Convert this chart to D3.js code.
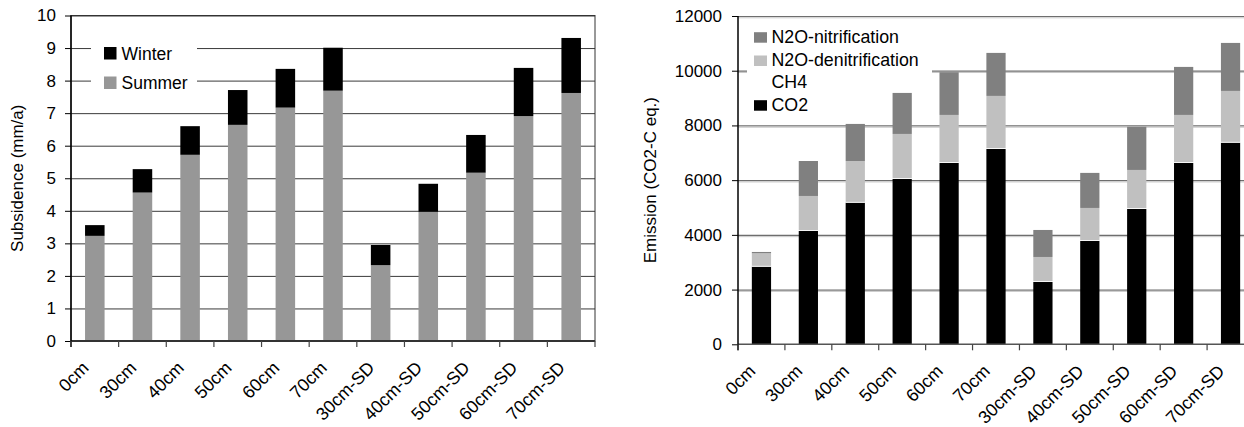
<!DOCTYPE html>
<html><head><meta charset="utf-8">
<script src="https://cdn.jsdelivr.net/npm/d3@7"></script>
<style>
html,body{margin:0;padding:0;background:#fff;}
svg text{font-family:"Liberation Sans",Arial,Helvetica,sans-serif;fill:#000;}
</style></head><body>
<svg id="chart" width="1244" height="427"></svg>
<script>
const categories = ["0cm","30cm","40cm","50cm","60cm","70cm","30cm-SD","40cm-SD","50cm-SD","60cm-SD","70cm-SD"];
// Left chart: subsidence (mm/a)
const summer = [3.23,4.56,5.72,6.64,7.17,7.69,2.33,3.97,5.17,6.91,7.62];
const winter = [0.33,0.72,0.88,1.07,1.19,1.32,0.62,0.86,1.16,1.48,1.69];
const leftTicks = [0,1,2,3,4,5,6,7,8,9,10];
// Right chart: emission (CO2-C eq.)
const co2 = [2838,4142,5177,6044,6629,7141,2278,3777,4947,6629,7371];
const ch4 = [30,30,30,30,30,30,30,30,30,30,30];
const n2oDenit = [459,1250,1493,1615,1725,1908,884,1177,1396,1725,1860];
const n2oNitr = [48,1278,1355,1499,1561,1572,987,1281,1579,1755,1755];
const rightTicks = [0,2000,4000,6000,8000,10000,12000];

const svg = d3.select("#chart");

function catAxis(g, x, yBase, n) {
  const step = x.step();
  const x0 = x.range()[0];
  for (let i = 0; i <= n; i++) {
    g.append("line").attr("x1", x0 + i*step).attr("x2", x0 + i*step)
      .attr("y1", yBase).attr("y2", yBase + 6).attr("stroke", "#444").attr("stroke-width", 1.2);
  }
  categories.forEach(c => {
    const cx = x(c) + x.bandwidth()/2;
    g.append("text").attr("text-anchor", "end").attr("font-size", 17.8)
      .attr("transform", `translate(${cx - 5},${yBase + 28}) rotate(-45)`).text(c);
  });
}

// ---------- LEFT ----------
{
  const L = 71, R = 595, T = 15.5, B = 341;
  const x = d3.scaleBand().domain(categories).range([L, R]).paddingInner(0.59).paddingOuter(0.295);
  const y = d3.scaleLinear().domain([0, 10]).range([B, T]);
  const g = svg.append("g");
  // gridlines
  g.append("g").attr("transform", `translate(${L},0)`)
    .call(d3.axisLeft(y).tickValues(leftTicks).tickSize(-(R - L)).tickFormat(""))
    .call(s => s.select(".domain").remove())
    .call(s => s.selectAll("line").attr("stroke", "#3a3a3a").attr("stroke-width", 1));
  // legend background (behind bars)
  g.append("rect").attr("x", 91).attr("y", 36).attr("width", 106).attr("height", 60).attr("fill", "#fff");
  // bars
  const stacks = d3.stack().keys(["summer","winter"])(categories.map((c,i)=>({c, summer: summer[i], winter: winter[i]})));
  const col = {summer: "#979797", winter: "#000"};
  stacks.forEach(s => {
    g.append("g").selectAll("rect").data(s).join("rect")
      .attr("x", d => x(d.data.c)).attr("width", x.bandwidth())
      .attr("y", d => y(d[1])).attr("height", d => y(d[0]) - y(d[1]))
      .attr("fill", col[s.key]);
  });
  // border
  g.append("rect").attr("x", L).attr("y", T).attr("width", R - L).attr("height", B - T)
    .attr("fill", "none").attr("stroke", "#333").attr("stroke-width", 1);
  g.append("line").attr("x1", L).attr("x2", R).attr("y1", B).attr("y2", B).attr("stroke", "#333").attr("stroke-width", 2);
  g.append("line").attr("x1", L).attr("x2", L).attr("y1", T).attr("y2", B + 6).attr("stroke", "#000").attr("stroke-width", 1.5);
  // y axis
  g.append("g").attr("transform", `translate(${L},0)`)
    .call(d3.axisLeft(y).tickValues(leftTicks).tickSize(6).tickPadding(9))
    .call(s => s.select(".domain").remove())
    .call(s => s.selectAll("line").attr("stroke", "#000"))
    .call(s => s.selectAll("text").attr("font-size", 17).attr("font-family", "Liberation Sans, Arial, sans-serif").attr("fill", "#000"));
  catAxis(g, x, B, categories.length);
  g.append("text").attr("text-anchor", "middle").attr("font-size", 17)
    .attr("transform", `translate(23,${(T + B)/2}) rotate(-90)`).text("Subsidence (mm/a)");
  // legend
  const lg = g.append("g");
  [["Winter", "#000", 47], ["Summer", "#979797", 76.5]].forEach(([t, c, yy]) => {
    lg.append("rect").attr("x", 104).attr("y", yy).attr("width", 12.5).attr("height", 12.5).attr("fill", c);
    lg.append("text").attr("x", 121.5).attr("y", yy + 12.5).attr("font-size", 17.5).text(t);
  });
}

// ---------- RIGHT ----------
{
  const L = 738, R = 1254, T = 16, B = 344.3;
  const x = d3.scaleBand().domain(categories).range([L, R]).paddingInner(0.59).paddingOuter(0.295);
  const y = d3.scaleLinear().domain([0, 12000]).range([B, T]);
  const g = svg.append("g");
  const gridG = g.append("g").attr("transform", `translate(${L},0)`)
    .call(d3.axisLeft(y).tickValues(rightTicks.filter(v => v > 0)).tickSize(-(R - L)).tickFormat(""))
    .call(s => s.select(".domain").remove());
  gridG.selectAll("line").attr("stroke", "#6e6e6e").attr("stroke-width", 1.2);
  gridG.selectAll(".tick").append("line").attr("x2", R - L).attr("y1", 1.3).attr("y2", 1.3).attr("stroke", "#c8c8c8").attr("stroke-width", 1);
  // legend background (behind bars)
  g.append("rect").attr("x", 747).attr("y", 22).attr("width", 185).attr("height", 96).attr("fill", "#fff");
  const keys = ["co2","ch4","denit","nitr"];
  const rows = categories.map((c,i)=>({c, co2: co2[i], ch4: ch4[i], denit: n2oDenit[i], nitr: n2oNitr[i]}));
  const stacks = d3.stack().keys(keys)(rows);
  const col = {co2: "#000", ch4: "#fff", denit: "#c0c0c0", nitr: "#808080"};
  stacks.forEach(s => {
    g.append("g").selectAll("rect").data(s).join("rect")
      .attr("x", d => x(d.data.c)).attr("width", x.bandwidth())
      .attr("y", d => y(d[1])).attr("height", d => y(d[0]) - y(d[1]))
      .attr("fill", col[s.key]);
  });
  g.append("line").attr("x1", L).attr("x2", R).attr("y1", B).attr("y2", B).attr("stroke", "#555").attr("stroke-width", 1.5);
  g.append("line").attr("x1", L).attr("x2", L).attr("y1", T).attr("y2", B + 6).attr("stroke", "#000").attr("stroke-width", 1.5);
  g.append("g").attr("transform", `translate(${L},0)`)
    .call(d3.axisLeft(y).tickValues(rightTicks).tickSize(6).tickPadding(10).tickFormat(d3.format("d")))
    .call(s => s.select(".domain").remove())
    .call(s => s.selectAll("line").attr("stroke", "#000"))
    .call(s => s.selectAll("text").attr("font-size", 17).attr("font-family", "Liberation Sans, Arial, sans-serif").attr("fill", "#000"));
  catAxis(g, x, B, categories.length);
  g.append("text").attr("text-anchor", "middle").attr("font-size", 17)
    .attr("transform", `translate(656,${(T + B)/2}) rotate(-90)`).text("Emission (CO2-C eq.)");
  // legend
  const lg = g.append("g");
  [["N2O-nitrification", "#808080", 42.7], ["N2O-denitrification", "#c0c0c0", 66], ["CH4", "#fff", 88], ["CO2", "#000", 110.7]].forEach(([t, c, yy]) => {
    lg.append("rect").attr("x", 754).attr("y", yy - 10.5).attr("width", 13).attr("height", 10.5).attr("fill", c);
    lg.append("text").attr("x", 771.5).attr("y", yy).attr("font-size", 17.8).text(t);
  });
}
</script>
</body></html>
